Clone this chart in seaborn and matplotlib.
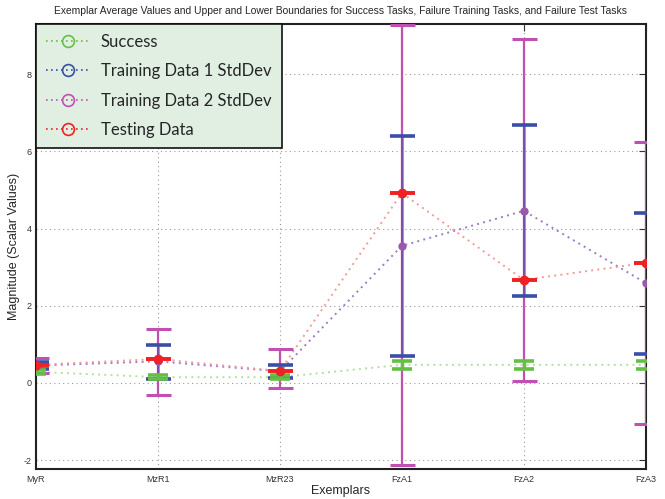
import numpy as np
import pandas as pd
import seaborn as sns
import matplotlib.pyplot as plt
from matplotlib.lines import Line2D

# values
exemplars = ["MyR", "MzR1", "MzR23", "FzA1", "FzA2", "FzA3"]
success_mean = [0.29, 0.15, 0.15, 0.47, 0.47, 0.47]
success_low = [0.24, 0.10, 0.10, 0.37, 0.37, 0.37]
success_high = [0.34, 0.21, 0.21, 0.57, 0.57, 0.57]
train_mean = [0.45, 0.56, 0.30, 3.55, 4.46, 2.59]
train1_low = [0.35, 0.10, 0.12, 0.70, 2.26, 0.75]
train1_high = [0.55, 0.98, 0.47, 6.40, 6.68, 4.40]
train2_low = [0.27, -0.31, -0.13, -2.13, 0.05, -1.06]
train2_high = [0.65, 1.40, 0.88, 9.27, 8.90, 6.24]
test_mean = [0.47, 0.62, 0.31, 4.92, 2.67, 3.11]

green = "#66bf45"
blue = "#3a4ea6"
magenta = "#c051b2"
red = "#ee2222"
purple = "#9a5aaa"

sns.set_style("white")
plt.rcParams["font.family"] = ["Liberation Sans", "DejaVu Sans"]
plt.rcParams["axes.unicode_minus"] = False

df = pd.DataFrame({
    "x": list(range(1, 7)) * 3,
    "value": success_mean + train_mean + test_mean,
    "series": ["Success"] * 6 + ["Training"] * 6 + ["Testing"] * 6,
})

fig, ax = plt.subplots(figsize=(6.65, 4.99), dpi=100)
fig.subplots_adjust(left=0.054, right=0.971, top=0.952, bottom=0.060)

# dotted mean lines
sns.lineplot(data=df, x="x", y="value", hue="series",
             palette={"Success": "#b4dfa0", "Training": "#9a7ccc", "Testing": "#f49a9a"},
             linestyle=(0, (1, 2.2)), linewidth=1.4, legend=False, ax=ax, zorder=2)

x = np.arange(1, 7)

def draw_bars(mean, low, high, color, lw, cap, capthick, bar_alpha=1.0, z=3):
    mean = np.array(mean)
    err = [mean - np.array(low), np.array(high) - mean]
    _, caps, bars = ax.errorbar(x, mean, yerr=err, fmt="none", ecolor=color, elinewidth=lw,
                                capsize=cap, capthick=capthick, zorder=z)
    for b in bars:
        b.set_alpha(bar_alpha)

draw_bars(train_mean, train2_low, train2_high, magenta, 1.6, 9, 2.2, z=3)
draw_bars(train_mean, train1_low, train1_high, blue, 2.2, 9, 2.6, bar_alpha=0.5, z=4)
draw_bars(success_mean, success_low, success_high, green, 2.5, 7, 2.6, z=5)

ax.plot(x, train_mean, "o", color=purple, markersize=6, zorder=6, markeredgewidth=0)
ax.errorbar(x, test_mean, yerr=0.0, fmt="o", color=red, markersize=6,
            ecolor=red, capsize=9, capthick=2.6, zorder=7)

ax.set_xlim(1, 6)
ax.set_ylim(-2.23, 9.3)
ax.set_xticks(x)
ax.set_xticklabels(exemplars)
ax.set_yticks([-2, 0, 2, 4, 6, 8])
ax.tick_params(axis="both", direction="in", length=5, labelsize=6.5,
               right=True, top=True, colors="#333333")
ax.tick_params(axis="x", pad=4)
ax.tick_params(axis="y", pad=3)
ax.grid(True, linestyle=(0, (1, 3)), color="#999999", linewidth=0.8)
for s in ax.spines.values():
    s.set_color("#222222")
    s.set_linewidth(1.5)

ax.set_title("Exemplar Average Values and Upper and Lower Boundaries for Success Tasks, "
             "Failure Training Tasks, and Failure Test Tasks", fontsize=7.4, pad=7)
ax.set_xlabel("Exemplars", fontsize=9, labelpad=1)
ax.set_ylabel("Magnitude (Scalar Values)", fontsize=9, labelpad=3)

handles = [
    Line2D([], [], color=c, linestyle=(0, (1, 2)), linewidth=1.2, marker="o",
           markerfacecolor="none", markeredgecolor=c, markersize=8.5, markeredgewidth=1.2)
    for c in ["#66c045", blue, magenta, red]
]
leg = ax.legend(handles, ["Success", "Training Data 1 StdDev", "Training Data 2 StdDev", "Testing Data"],
                loc="upper left", bbox_to_anchor=(0, 1), borderaxespad=0,
                prop={"family": ["Lato", "DejaVu Sans"], "size": 12},
                fancybox=False, framealpha=1, facecolor="#e0efe2", edgecolor="#111111",
                handlelength=2.7, labelspacing=0.8, handletextpad=0.6, borderpad=0.6)
leg.get_frame().set_linewidth(1.2)
leg.set_zorder(10)

fig.savefig("out.png", dpi=100)
